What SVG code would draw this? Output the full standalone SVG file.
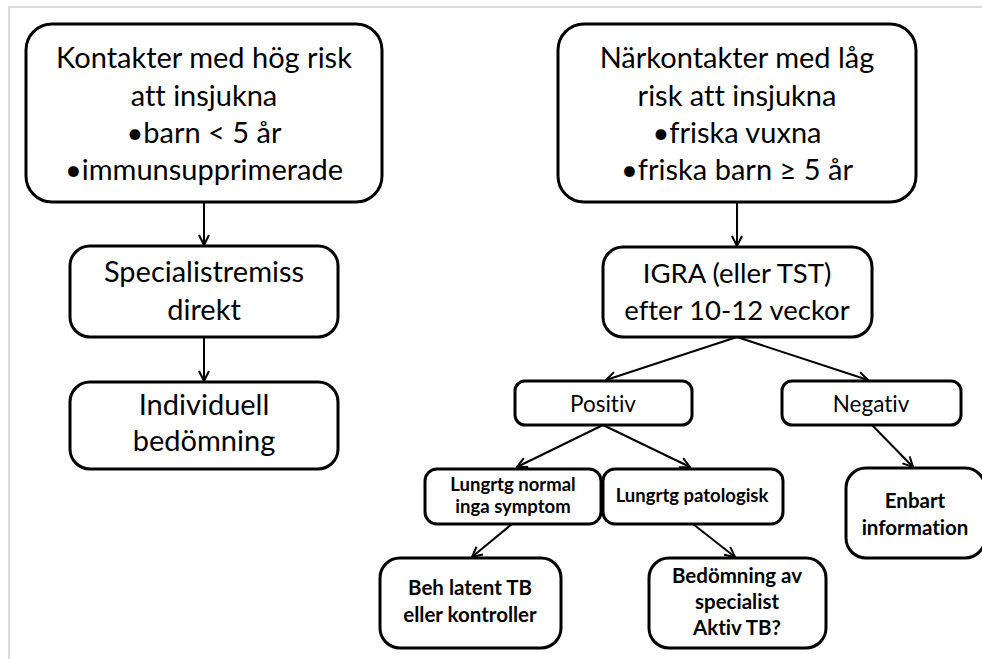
<svg xmlns="http://www.w3.org/2000/svg" width="982" height="659" viewBox="0 0 982 659">
  <defs>
    <marker id="arrow" viewBox="0 0 12 12" refX="11" refY="6" markerWidth="12" markerHeight="12" markerUnits="userSpaceOnUse" orient="auto">
      <path d="M1,1 L11,6 L1,11" fill="none" stroke="#000" stroke-width="2"/>
    </marker>
    <style>
      .box { fill: #fff; stroke: #000; stroke-width: 3; }
      .edge { stroke: #000; stroke-width: 2; fill: none; marker-end: url(#arrow); }
      .t { font-family: Lato, "Open Sans", sans-serif; fill: #000; text-anchor: middle; font-variant-ligatures: none; }
      .big { font-size: 29px; }
      .cap { font-size: 27.5px; }
      .mid { font-size: 22.5px; }
      .bs { font-size: 18.5px; font-weight: bold; }
      .bm { font-size: 20.5px; font-weight: bold; }
    </style>
  </defs>

  <rect width="982" height="659" fill="#fff"/>
  <!-- page frame -->
  <path d="M9,659 V7 H982" fill="none" stroke="#dcdcdc" stroke-width="2"/>

  <g id="connectors">
    <line class="edge" x1="204" y1="202" x2="204" y2="245"/>
    <line class="edge" x1="204" y1="337" x2="204" y2="381"/>
    <line class="edge" x1="737" y1="202" x2="737" y2="246"/>
    <line class="edge" x1="737" y1="337" x2="606" y2="380"/>
    <line class="edge" x1="737" y1="337" x2="868" y2="380"/>
    <line class="edge" x1="603" y1="425" x2="517" y2="467"/>
    <line class="edge" x1="603" y1="425" x2="690" y2="467"/>
    <line class="edge" x1="872" y1="425" x2="913" y2="467"/>
    <line class="edge" x1="512" y1="524" x2="472" y2="557"/>
    <line class="edge" x1="693" y1="524" x2="735" y2="557"/>
  </g>

  <g id="high-risk">
    <rect class="box" x="26" y="24" width="356" height="178" rx="26"/>
    <text class="t big" x="204" y="68">Kontakter med hög risk</text>
    <text class="t big" x="204" y="106">att insjukna</text>
    <text class="t big" x="204" y="143">•barn &lt; 5 år</text>
    <text class="t big" x="204" y="180">•immunsupprimerade</text>
  </g>

  <g id="low-risk">
    <rect class="box" x="558" y="24" width="358" height="178" rx="26"/>
    <text class="t big" x="737" y="68">Närkontakter med låg</text>
    <text class="t big" x="737" y="106">risk att insjukna</text>
    <text class="t big" x="737" y="143">•friska vuxna</text>
    <text class="t big" x="737" y="180">•friska barn ≥ 5 år</text>
  </g>

  <g id="specialistremiss">
    <rect class="box" x="70" y="246" width="268" height="91" rx="20"/>
    <text class="t big" x="204" y="282">Specialistremiss</text>
    <text class="t big" x="204" y="320">direkt</text>
  </g>

  <g id="individuell">
    <rect class="box" x="70" y="382" width="268" height="87" rx="20"/>
    <text class="t big" x="204" y="415">Individuell</text>
    <text class="t big" x="204" y="451">bedömning</text>
  </g>

  <g id="igra">
    <rect class="box" x="603" y="247" width="269" height="90" rx="20"/>
    <text class="t cap" x="737" y="283">IGRA (eller TST)</text>
    <text class="t cap" x="737" y="320">efter 10-12 veckor</text>
  </g>

  <g id="positiv">
    <rect class="box" x="515" y="381" width="177" height="44" rx="10"/>
    <text class="t mid" x="603" y="412">Positiv</text>
  </g>

  <g id="negativ">
    <rect class="box" x="782" y="381" width="179" height="44" rx="10"/>
    <text class="t mid" x="871" y="412">Negativ</text>
  </g>

  <g id="lungrtg-normal">
    <rect class="box" x="425" y="469" width="176" height="55" rx="12"/>
    <text class="t bs" x="513" y="491">Lungrtg normal</text>
    <text class="t bs" x="513" y="513">inga symptom</text>
  </g>

  <g id="lungrtg-patologisk">
    <rect class="box" x="603" y="469" width="180" height="55" rx="12"/>
    <text class="t bs" x="692" y="502">Lungrtg patologisk</text>
  </g>

  <g id="enbart">
    <rect class="box" x="846" y="468" width="139" height="90" rx="20"/>
    <text class="t bm" x="915" y="508">Enbart</text>
    <text class="t bm" x="915" y="535">information</text>
  </g>

  <g id="beh-latent">
    <rect class="box" x="380" y="558" width="181" height="90" rx="20"/>
    <text class="t bm" x="470" y="595">Beh latent TB</text>
    <text class="t bm" x="470" y="622">eller kontroller</text>
  </g>

  <g id="bedomning">
    <rect class="box" x="649" y="558" width="177" height="90" rx="20"/>
    <text class="t bm" x="737" y="583">Bedömning av</text>
    <text class="t bm" x="737" y="609">specialist</text>
    <text class="t bm" x="737" y="635">Aktiv TB?</text>
  </g>
</svg>
